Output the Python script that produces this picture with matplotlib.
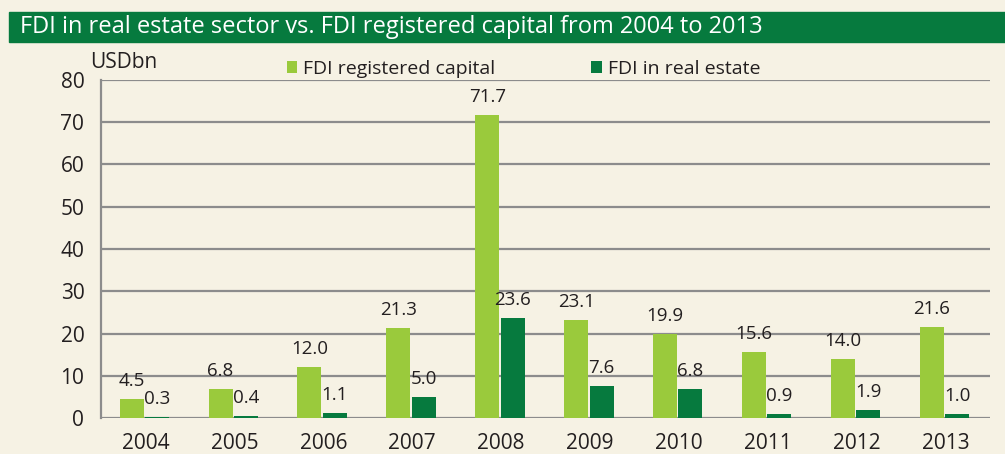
import matplotlib.pyplot as plt
import matplotlib.patches as mpatches
import numpy as np

years = ["2004", "2005", "2006", "2007", "2008", "2009", "2010", "2011", "2012", "2013"]
registered = [4.5, 6.8, 12.0, 21.3, 71.7, 23.1, 19.9, 15.6, 14.0, 21.6]
real_estate = [0.3, 0.4, 1.1, 5.0, 23.6, 7.6, 6.8, 0.9, 1.9, 1.0]

bg = "#f6f2e4"
light = "#9aca3c"
dark = "#067a3e"
txt = "#231f20"
grey = "#8c8c8c"

plt.rcParams['font.family'] = ['Open Sans', 'DejaVu Sans']

fig = plt.figure(figsize=(10.05, 4.54), dpi=100, facecolor=bg)
ax = fig.add_axes([101 / 1005, 36 / 454, 889 / 1005, 338 / 454])
ax.set_facecolor(bg)

# title bar
fig.patches.append(mpatches.Rectangle((9 / 1005, 1 - 42 / 454), 1, 30 / 454,
                                      transform=fig.transFigure, color=dark, zorder=0))
fig.text(20 / 1005, 1 - 27 / 454, "FDI in real estate sector vs. FDI registered capital from 2004 to 2013",
         color="white", fontsize=17, va="center", ha="left")

x = np.arange(len(years))
w = 0.27
b1 = ax.bar(x - 0.155, registered, w, color=light, label="FDI registered capital", zorder=3)
b2 = ax.bar(x + 0.13, real_estate, w, color=dark, label="FDI in real estate", zorder=3)

for xi, v in zip(x, registered):
    ax.annotate(f"{v:.1f}", (xi - 0.155, v), xytext=(0, 13), textcoords="offset pixels",
                ha="center", va="baseline", fontsize=13.5, color=txt)
for xi, v in zip(x, real_estate):
    ax.annotate(f"{v:.1f}", (xi + 0.13, v), xytext=(0, 13), textcoords="offset pixels",
                ha="center", va="baseline", fontsize=13.5, color=txt)

ax.set_xlim(-0.5, 9.5)
ax.set_ylim(0, 80)
ax.set_yticks(range(0, 81, 10))
ax.set_xticks(x)
ax.set_xticklabels(years)
ax.yaxis.grid(True, color=grey, linewidth=1.6, zorder=1)
ax.set_axisbelow(True)
for s in ["top", "right", "bottom"]:
    ax.spines[s].set_visible(False)
ax.spines["left"].set_color(grey)
ax.spines["left"].set_linewidth(1.6)
ax.tick_params(axis="both", length=0, labelsize=15, colors=txt)
ax.tick_params(axis="y", pad=12)
ax.tick_params(axis="x", pad=10.5)

fig.text(90 / 1005, 1 - 62 / 454, "USDbn", fontsize=15, color=txt, va="center", ha="left")

ax.legend(loc="center left", bbox_to_anchor=(168 / 889, 1 + 11 / 338), ncol=2, frameon=False,
          fontsize=14, handlelength=0.55, handleheight=0.55, handletextpad=0.3,
          columnspacing=4.95, labelcolor=txt)

fig.savefig("out.png", dpi=100, facecolor=bg)
